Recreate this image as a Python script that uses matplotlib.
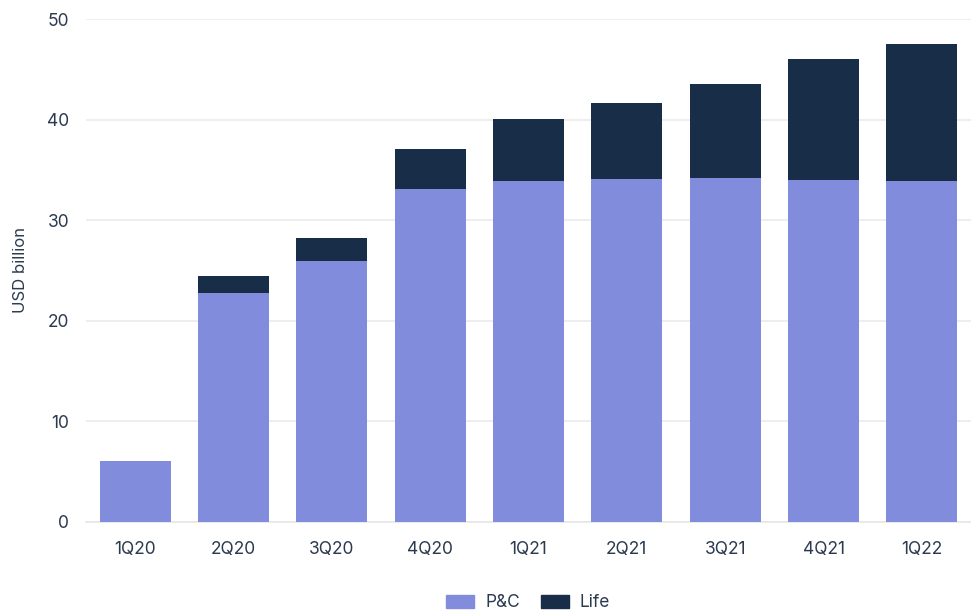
import matplotlib.pyplot as plt
import numpy as np
from matplotlib.patches import Patch

quarters = ["1Q20", "2Q20", "3Q20", "4Q20", "1Q21", "2Q21", "3Q21", "4Q21", "1Q22"]
pc_values = [6.1, 22.8, 25.9, 33.1, 33.9, 34.1, 34.2, 34.0, 33.9]
life_values = [0.0, 1.7, 2.35, 4.0, 6.15, 7.55, 9.35, 12.0, 13.6]

PC_COLOR = "#828cdc"
LIFE_COLOR = "#172d48"
TEXT_COLOR = "#2b3a4f"

plt.rcParams["font.family"] = ["Inter", "DejaVu Sans"]

fig = plt.figure(figsize=(9.71, 6.11), dpi=100)
ax = fig.add_axes([0.0886, 0.1457, 0.9114, 0.8232])

x = np.arange(len(quarters))
ax.bar(x, pc_values, width=0.72, color=PC_COLOR, zorder=3)
ax.bar(x, life_values, width=0.72, bottom=pc_values, color=LIFE_COLOR, zorder=3)

ax.set_xlim(-0.5, len(quarters) - 0.5)
ax.set_ylim(0, 50)
ax.set_yticks([0, 10, 20, 30, 40, 50])
ax.set_xticks(x)
ax.set_xticklabels(quarters)
ax.yaxis.grid(True, color="#ebebeb", linewidth=1.2, zorder=0)
ax.set_axisbelow(True)

for side in ["top", "right", "left"]:
    ax.spines[side].set_visible(False)
ax.spines["bottom"].set_color("#e6e6e6")
ax.spines["bottom"].set_linewidth(1.2)

ax.tick_params(axis="both", length=0, labelsize=12.5, colors=TEXT_COLOR)
ax.tick_params(axis="x", pad=14)
ax.tick_params(axis="y", pad=12)
ax.set_ylabel("USD billion", fontsize=12, color=TEXT_COLOR, labelpad=14)

handles = [Patch(color=PC_COLOR, label="P&C"), Patch(color=LIFE_COLOR, label="Life")]
fig.legend(handles=handles, loc="lower center", bbox_to_anchor=(0.544, -0.026), ncol=2,
           frameon=False, fontsize=12.5, labelcolor=TEXT_COLOR, handlelength=1.6,
           handleheight=0.75, columnspacing=1.2, handletextpad=0.65)

fig.savefig("out.png", dpi=100)
